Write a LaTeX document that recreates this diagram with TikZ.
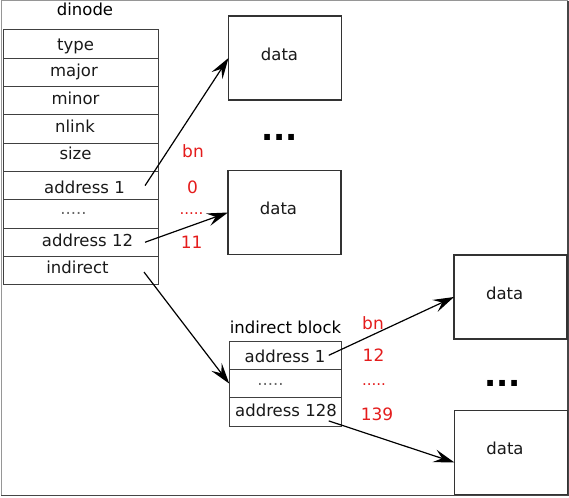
\documentclass[tikz,border=0pt]{standalone}
\usepackage{fontspec}
\setmainfont{DejaVu Sans}
\usetikzlibrary{arrows.meta,calc}
\definecolor{lbl}{RGB}{228,28,28}
\definecolor{framelt}{RGB}{150,150,150}
\definecolor{framedk}{RGB}{70,70,70}
\begin{document}
\begin{tikzpicture}[x=1pt,y=-1pt,
  every node/.style={font=\fontsize{16.5}{18}\selectfont},
  row/.style={draw=black!75, line width=1pt, minimum width=155pt, minimum height=28.3pt, inner sep=0pt, outer sep=0pt},
  irow/.style={draw=black!75, line width=1pt, minimum width=112.5pt, minimum height=28.3pt, inner sep=0pt, outer sep=0pt},
  databox/.style={draw=black!80, line width=1.1pt, minimum width=113pt, minimum height=84pt, inner sep=0pt, outer sep=0pt},
  txt/.style={anchor=base, inner sep=0pt, text=black!90},
  red/.style={anchor=base, inner sep=0pt, text=lbl, font=\fontsize{17}{19}\selectfont},
  reddots/.style={inner sep=0pt, text=lbl, font=\fontsize{15}{17}\selectfont},
  bigdots/.style={inner sep=0pt, font=\fontsize{32}{34}\selectfont\bfseries},
  ptr/.style={-{Stealth[length=21pt,width=13pt,inset=8pt]}, line width=1.2pt, black}
]
\useasboundingbox (0,0) rectangle (569,497);
% outer frame
\draw[framelt, line width=1pt] (1,495.5) -- (1,1) -- (568,1);
\draw[framedk, line width=1.4pt] (568,1) -- (568,495.5) -- (1,495.5);

% dinode
\node[inner sep=0pt] (dinodelbl) at (85,9) {dinode};
\node[row] (r1) at (80.5,44.15) {};
\node[row] (r2) at (80.5,72.45) {};
\node[row] (r3) at (80.5,100.75) {};
\node[row] (r4) at (80.5,129.05) {};
\node[row] (r5) at (80.5,157.35) {};
\node[row] (r6) at (80.5,185.65) {};
\node[row] (r7) at (80.5,213.95) {};
\node[row] (r8) at (80.5,242.25) {};
\node[row] (r9) at (80.5,270.55) {};
\node[txt] (t1) at (75.5,50.5) {type};
\node[txt] (t2) at (74,77) {major};
\node[txt] (t3) at (75.5,104.3) {minor};
\node[txt] (t4) at (75,132.3) {nlink};
\node[txt] (t5) at (75.5,160) {size};
\node[txt] (t6) at (84.5,193) {address 1};
\node[txt, text=black!60] (t7) at (73.5,214) {.....};
\node[txt] (t8) at (87.5,246.5) {address 12};
\node[txt] (t9) at (77.5,273) {indirect};

% data boxes
\node[databox] (d1) at (285,58) {};
\node[databox] (d2) at (284.5,212.5) {};
\node[databox] (d3) at (510.5,297) {};
\node[databox] (d4) at (511,452.5) {};
\node[txt] (dt1) at (279.5,61) {data};
\node[txt] (dt2) at (278.5,214.3) {data};
\node[txt] (dt3) at (504.7,299.3) {data};
\node[txt] (dt4) at (505,454.3) {data};
\node[bigdots] (dots1) at (279.5,137) {...};
\node[bigdots] (dots2) at (502.5,383) {...};

% indirect block
\node[inner sep=0pt, anchor=base] (iblbl) at (285.5,333) {indirect block};
\node[irow] (i1) at (285.5,355.3) {};
\node[irow] (i2) at (285.5,383.6) {};
\node[irow] (i3) at (285.5,411.9) {};
\node[txt] (it1) at (285,362.7) {address 1};
\node[txt, text=black!60] (it2) at (270.5,385) {.....};
\node[txt] (it3) at (286,416.7) {address 128};

% red labels
\node[red] (bn1) at (193,157.7) {bn};
\node[red] (n0) at (192.5,193.3) {0};
\node[reddots] (rd1) at (191.5,214) {.....};
\node[red] (n11) at (191.7,248.3) {11};
\node[red] (bn2) at (373,329) {bn};
\node[red] (n12) at (373.5,361.7) {12};
\node[reddots] (rd2) at (374,384.5) {.....};
\node[red] (n139) at (377,420.7) {139};

% pointers
\draw[ptr] ([xshift=-13pt]r6.east) -- (d1.west);
\draw[ptr] ([xshift=-13pt]r8.east) -- (d2.west);
\draw[ptr] ([xshift=-14pt,yshift=-1.5pt]r9.east) -- (i2.west);
\draw[ptr] ([xshift=-13pt]i1.east) -- (d3.west);
\draw[ptr] ([xshift=-13pt,yshift=-9pt]i3.east) -- ([yshift=-10pt]d4.west);
\end{tikzpicture}
\end{document}
